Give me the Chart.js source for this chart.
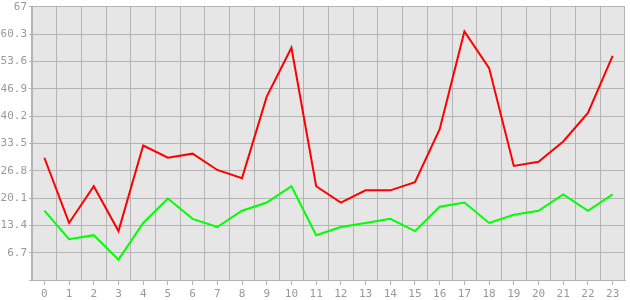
<!DOCTYPE html>
<html>
<head>
<meta charset="utf-8">
<script src="https://cdn.jsdelivr.net/npm/chart.js@4.4.1/dist/chart.umd.min.js"></script>
<style>
html,body{margin:0;padding:0;background:#fff;}
#wrap{width:630px;height:300px;position:relative;}
</style>
</head>
<body>
<div id="wrap"><canvas id="c" width="630" height="300"></canvas></div>
<script>
const categories = ['0','1','2','3','4','5','6','7','8','9','10','11','12','13','14','15','16','17','18','19','20','21','22','23'];
const redSeries = [30,14,23,12,33,30,31,27,25,45,57,23,19,22,22,24,37,61,52,28,29,34,41,55];
const greenSeries = [17,10,11,5,14,20,15,13,17,19,23,11,13,14,15,12,18,19,14,16,17,21,17,21];
const yTickValues = [0,6.7,13.4,20.1,26.8,33.5,40.2,46.9,53.6,60.3,67];
const yTickLabels = ['','6.7','13.4','20.1','26.8','33.5','40.2','46.9','53.6','60.3','67'];

const gridColor = '#b4b4b4';
const tickFont = {family: 'DejaVu Sans Mono', size: 11};
const yTickFont = {family: 'DejaVu Sans Mono', size: 11, lineHeight: 0.9};
const tickColor = '#999999';

const bgPlugin = {
  id: 'bg',
  beforeDraw(chart) {
    const {ctx, chartArea: a} = chart;
    ctx.save();
    ctx.fillStyle = '#e6e6e6';
    ctx.fillRect(a.left, a.top, a.right - a.left, a.bottom - a.top);
    ctx.restore();
  }
};

new Chart(document.getElementById('c'), {
  type: 'line',
  data: {
    labels: categories,
    datasets: [
      {data: greenSeries, borderColor: '#00ff00', borderWidth: 2, pointRadius: 0, tension: 0, xAxisID: 'x', yAxisID: 'y'},
      {data: redSeries, borderColor: '#ff0000', borderWidth: 2, pointRadius: 0, tension: 0, xAxisID: 'x', yAxisID: 'y'}
    ]
  },
  options: {
    responsive: false,
    animation: false,
    layout: {padding: {top: 0, right: 5, left: 0, bottom: 0}},
    plugins: {legend: {display: false}, tooltip: {enabled: false}},
    scales: {
      x: {
        type: 'category',
        offset: true,
        position: 'bottom',
        grid: {offset: true, color: gridColor, drawTicks: false, lineWidth: 1},
        border: {display: true, color: gridColor},
        ticks: {display: false},
        afterFit(s) { s.height = 0; }
      },
      x2: {
        type: 'category',
        offset: true,
        position: 'bottom',
        grid: {offset: false, drawOnChartArea: false, color: gridColor, tickLength: 5},
        border: {display: false},
        ticks: {color: tickColor, font: tickFont, padding: 3, maxRotation: 0, autoSkip: false},
        afterFit(s) { s.height = 20; }
      },
      y: {
        min: 0,
        max: 67,
        grid: {color: gridColor, tickLength: 3},
        border: {display: true, color: gridColor},
        afterBuildTicks(s) { s.ticks = yTickValues.map(v => ({value: v})); },
        ticks: {
          color: tickColor,
          font: yTickFont,
          padding: 2,
          callback: (v, i) => yTickLabels[i]
        },
        afterFit(s) { s.width = 32; }
      }
    }
  },
  plugins: [bgPlugin]
});
</script>
</body>
</html>
